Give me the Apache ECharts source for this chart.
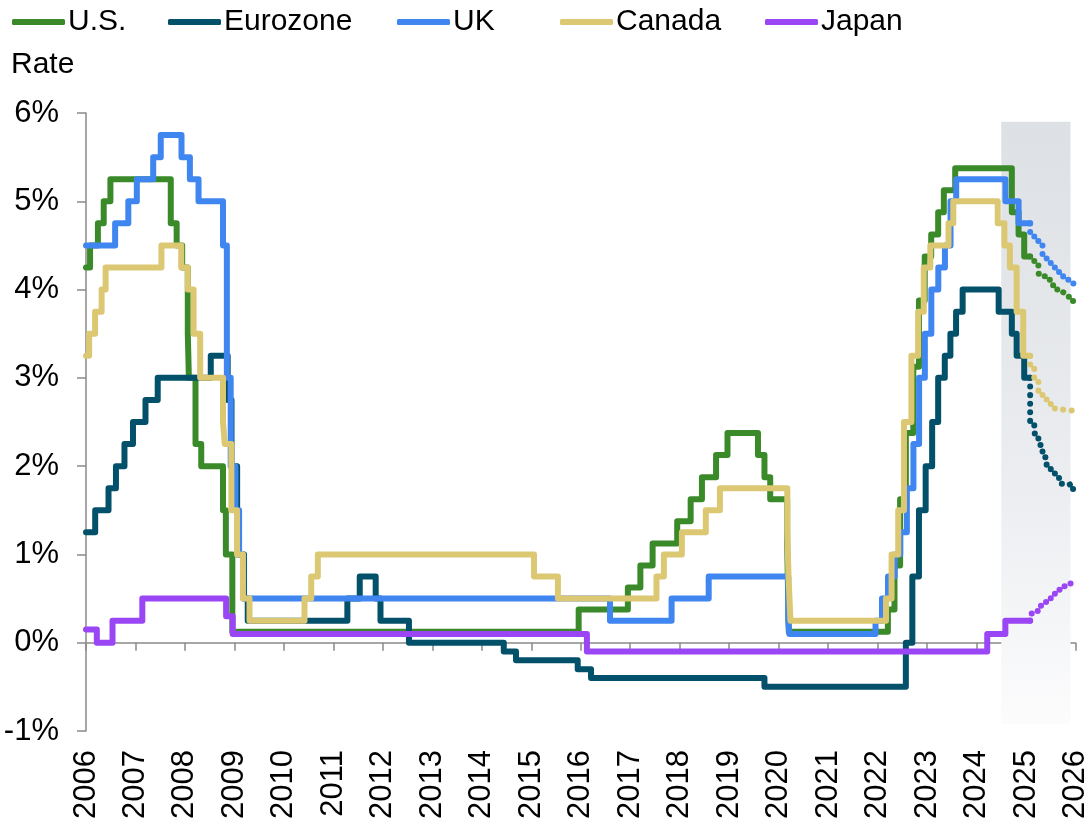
<!DOCTYPE html>
<html>
<head>
<meta charset="utf-8">
<script src="https://cdn.jsdelivr.net/npm/echarts@6/dist/echarts.min.js"></script>
<style>
  html, body { margin: 0; padding: 0; background: #ffffff; }
  #chart { width: 1091px; height: 824px; }
</style>
</head>
<body>
<div id="chart"></div>
<script>
// Policy rate change points: [effective date, rate in %]
const usRates = [
  ['2006-01-01', 4.25], ['2006-01-31', 4.50], ['2006-03-28', 4.75], ['2006-05-10', 5.00],
  ['2006-06-29', 5.25], ['2007-09-18', 4.75], ['2007-10-31', 4.50], ['2007-12-11', 4.25],
  ['2008-01-22', 3.50], ['2008-01-30', 3.00], ['2008-03-18', 2.25], ['2008-04-30', 2.00],
  ['2008-10-08', 1.50], ['2008-10-29', 1.00], ['2008-12-16', 0.125], ['2015-12-16', 0.375],
  ['2016-12-14', 0.625], ['2017-03-15', 0.875], ['2017-06-14', 1.125], ['2017-12-13', 1.375],
  ['2018-03-21', 1.625], ['2018-06-13', 1.875], ['2018-09-26', 2.125], ['2018-12-19', 2.375],
  ['2019-07-31', 2.125], ['2019-09-18', 1.875], ['2019-10-30', 1.625], ['2020-03-03', 1.125],
  ['2020-03-15', 0.125], ['2022-03-16', 0.375], ['2022-05-04', 0.875], ['2022-06-15', 1.625],
  ['2022-07-27', 2.375], ['2022-09-21', 3.125], ['2022-11-02', 3.875], ['2022-12-14', 4.375],
  ['2023-02-01', 4.625], ['2023-03-22', 4.875], ['2023-05-03', 5.125], ['2023-07-26', 5.375],
  ['2024-09-18', 4.875], ['2024-11-07', 4.625], ['2024-12-18', 4.375], ['2025-02-01', 4.375]
];
const euroRates = [
  ['2006-01-01', 1.25], ['2006-03-08', 1.50], ['2006-06-15', 1.75], ['2006-08-09', 2.00],
  ['2006-10-11', 2.25], ['2006-12-13', 2.50], ['2007-03-14', 2.75], ['2007-06-13', 3.00],
  ['2008-07-09', 3.25], ['2008-11-12', 2.75], ['2008-12-10', 2.00], ['2009-01-21', 1.00],
  ['2009-03-11', 0.50], ['2009-04-08', 0.25], ['2011-04-13', 0.50], ['2011-07-13', 0.75],
  ['2011-11-09', 0.50], ['2011-12-14', 0.25], ['2012-07-11', 0.00], ['2014-06-11', -0.10],
  ['2014-09-10', -0.20], ['2015-12-09', -0.30], ['2016-03-16', -0.40], ['2019-09-18', -0.50],
  ['2022-07-27', 0.00], ['2022-09-14', 0.75], ['2022-11-02', 1.50], ['2022-12-21', 2.00],
  ['2023-02-08', 2.50], ['2023-03-22', 3.00], ['2023-05-10', 3.25], ['2023-06-21', 3.50],
  ['2023-08-02', 3.75], ['2023-09-20', 4.00], ['2024-06-12', 3.75], ['2024-09-18', 3.50],
  ['2024-10-23', 3.25], ['2024-12-18', 3.00], ['2025-02-01', 3.00]
];
const ukRates = [
  ['2006-01-01', 4.50], ['2006-08-03', 4.75], ['2006-11-09', 5.00], ['2007-01-11', 5.25],
  ['2007-05-10', 5.50], ['2007-07-05', 5.75], ['2007-12-06', 5.50], ['2008-02-07', 5.25],
  ['2008-04-10', 5.00], ['2008-10-08', 4.50], ['2008-11-06', 3.00], ['2008-12-04', 2.00],
  ['2009-01-08', 1.50], ['2009-02-05', 1.00], ['2009-03-05', 0.50], ['2016-08-04', 0.25],
  ['2017-11-02', 0.50], ['2018-08-02', 0.75], ['2020-03-11', 0.25], ['2020-03-19', 0.10],
  ['2021-12-16', 0.25], ['2022-02-03', 0.50], ['2022-03-17', 0.75], ['2022-05-05', 1.00],
  ['2022-06-16', 1.25], ['2022-08-04', 1.75], ['2022-09-22', 2.25], ['2022-11-03', 3.00],
  ['2022-12-15', 3.50], ['2023-02-02', 4.00], ['2023-03-23', 4.25], ['2023-05-11', 4.50],
  ['2023-06-22', 5.00], ['2023-08-03', 5.25], ['2024-08-01', 5.00], ['2024-11-07', 4.75],
  ['2025-02-01', 4.75]
];
const canadaRates = [
  ['2006-01-01', 3.25], ['2006-01-24', 3.50], ['2006-03-07', 3.75], ['2006-04-25', 4.00],
  ['2006-05-24', 4.25], ['2007-07-10', 4.50], ['2007-12-04', 4.25], ['2008-01-22', 4.00],
  ['2008-03-04', 3.50], ['2008-04-22', 3.00], ['2008-10-08', 2.50], ['2008-10-21', 2.25],
  ['2008-12-09', 1.50], ['2009-01-20', 1.00], ['2009-03-03', 0.50], ['2009-04-21', 0.25],
  ['2010-06-01', 0.50], ['2010-07-20', 0.75], ['2010-09-08', 1.00], ['2015-01-21', 0.75],
  ['2015-07-15', 0.50], ['2017-07-12', 0.75], ['2017-09-06', 1.00], ['2018-01-17', 1.25],
  ['2018-07-11', 1.50], ['2018-10-24', 1.75], ['2020-03-04', 1.25], ['2020-03-13', 0.75],
  ['2020-03-27', 0.25], ['2022-03-02', 0.50], ['2022-04-13', 1.00], ['2022-06-01', 1.50],
  ['2022-07-13', 2.50], ['2022-09-07', 3.25], ['2022-10-26', 3.75], ['2022-12-07', 4.25],
  ['2023-01-25', 4.50], ['2023-06-07', 4.75], ['2023-07-12', 5.00], ['2024-06-05', 4.75],
  ['2024-07-24', 4.50], ['2024-09-04', 4.25], ['2024-10-23', 3.75], ['2024-12-11', 3.25],
  ['2025-02-01', 3.25]
];
const japanRates = [
  ['2006-01-01', 0.15], ['2006-03-20', 0.00], ['2006-07-14', 0.25], ['2007-02-21', 0.50],
  ['2008-10-31', 0.30], ['2008-12-19', 0.10], ['2016-02-16', -0.10], ['2024-03-19', 0.10],
  ['2024-07-31', 0.25], ['2025-02-01', 0.25]
];

// Market-implied path, one value per month from Feb to Dec 2025
const forecastMonths = ['2025-02-01', '2025-03-01', '2025-04-01', '2025-05-01', '2025-06-01',
  '2025-07-01', '2025-08-01', '2025-09-01', '2025-10-01', '2025-11-01', '2025-12-01'];
const forecastEnd = '2025-12-28';
const usForecast     = [4.33, 4.30, 4.18, 4.15, 4.11, 4.05, 4.00, 3.97, 3.95, 3.92, 3.87];
const euroForecast   = [2.50, 2.37, 2.24, 2.10, 1.97, 1.92, 1.88, 1.80, 1.78, 1.80, 1.74];
const ukForecast     = [4.62, 4.55, 4.50, 4.40, 4.35, 4.28, 4.23, 4.18, 4.14, 4.11, 4.07];
const canadaForecast = [3.12, 2.98, 2.85, 2.78, 2.72, 2.68, 2.65, 2.64, 2.63, 2.63, 2.63];
const japanForecast  = [0.33, 0.36, 0.42, 0.46, 0.50, 0.54, 0.57, 0.60, 0.64, 0.67, 0.70];

const yTicks = [-1, 0, 1, 2, 3, 4, 5, 6];
const forecastWindow = ['2024-07-01', '2025-11-25'];

const names = ['U.S.', 'Eurozone', 'UK', 'Canada', 'Japan'];
const colors = ['#3a8a2a', '#03506b', '#3f86f0', '#dcc873', '#9b46f5'];
const history = [usRates, euroRates, ukRates, canadaRates, japanRates];
const forecasts = [usForecast, euroForecast, ukForecast, canadaForecast, japanForecast];

// Date string -> fractional year
function toYear(s) {
  const p = s.split('-').map(Number);
  return p[0] + (p[1] - 1) / 12 + (p[2] - 1) / 365;
}

const FONT = '"Liberation Sans", Arial, Helvetica, sans-serif';
const AXIS_GRAY = '#8a8a8a';

const series = [];
// Shaded forecast window
series.push({
  type: 'line', data: [], silent: true, z: 1,
  markArea: {
    silent: true,
    itemStyle: {
      color: {
        type: 'linear', x: 0, y: 0, x2: 0, y2: 1,
        colorStops: [
          { offset: 0, color: 'rgba(221,224,228,1)' },
          { offset: 0.6, color: 'rgba(235,237,240,1)' },
          { offset: 1, color: 'rgba(252,252,253,1)' }
        ]
      }
    },
    data: [[
      { coord: [toYear(forecastWindow[0]), 5.9] },
      { coord: [toYear(forecastWindow[1]), -0.92] }
    ]]
  }
});

history.forEach((pts, i) => {
  series.push({
    name: names[i], type: 'line', step: 'end', showSymbol: false, z: 3 + i,
    lineStyle: { color: colors[i], width: 6, cap: 'round', join: 'round' },
    itemStyle: { color: colors[i] },
    data: pts.map(p => [toYear(p[0]), p[1]])
  });
});

forecasts.forEach((vals, i) => {
  const last = history[i][history[i].length - 1];
  const data = [[toYear(last[0]), last[1]]];
  forecastMonths.forEach((m, k) => data.push([toYear(m), vals[k]]));
  data.push([toYear(forecastEnd), vals[vals.length - 1]]);
  series.push({
    name: names[i], type: 'line', step: 'end', showSymbol: false, z: 3 + i,
    lineStyle: { color: colors[i], width: 6, type: [0.1, 8.5], cap: 'round', join: 'round' },
    itemStyle: { color: colors[i] },
    data: data
  });
});

const legendLeft = [7, 163, 392, 555, 760];
const legends = names.map((n, i) => ({
  data: [n], left: legendLeft[i], top: 2,
  icon: 'roundRect', itemWidth: 53, itemHeight: 6, itemGap: 0,
  textStyle: { fontFamily: FONT, fontSize: 30, color: '#000', padding: [0, 0, 0, -2] },
  selectedMode: false
}));

const chart = echarts.init(document.getElementById('chart'), null, { renderer: 'canvas' });
chart.setOption({
  animation: false,
  backgroundColor: '#ffffff',
  title: {
    text: 'Rate', left: 6, top: 45,
    textStyle: { fontFamily: FONT, fontSize: 30, fontWeight: 'normal', color: '#000' }
  },
  legend: legends,
  grid: { left: 86, right: 13, top: 113, bottom: 93, containLabel: false },
  xAxis: [
    {
      type: 'value', min: 2006, max: 2026, interval: 1, position: 'bottom',
      axisLine: { show: false, onZero: false },
      axisTick: { show: false },
      splitLine: { show: false },
      axisLabel: {
        rotate: 90, margin: 19, fontFamily: FONT, fontSize: 31, color: '#000',
        formatter: v => String(v)
      }
    },
    {
      type: 'value', min: 2006, max: 2026, interval: 1, position: 'bottom',
      axisLine: { show: true, onZero: true, lineStyle: { color: AXIS_GRAY, width: 1.5 } },
      axisTick: { show: true, length: 8, lineStyle: { color: AXIS_GRAY, width: 1.5 } },
      splitLine: { show: false },
      axisLabel: { show: false }
    }
  ],
  yAxis: {
    type: 'value', min: yTicks[0], max: yTicks[yTicks.length - 1], interval: 1,
    axisLine: { show: true, onZero: false, lineStyle: { color: AXIS_GRAY, width: 1.5 } },
    axisTick: { show: true, length: 9, lineStyle: { color: AXIS_GRAY, width: 1.5 } },
    splitLine: { show: false },
    axisLabel: {
      margin: 27, fontFamily: FONT, fontSize: 31, color: '#000',
      formatter: v => v + '%'
    }
  },
  series: series
});
</script>
</body>
</html>
